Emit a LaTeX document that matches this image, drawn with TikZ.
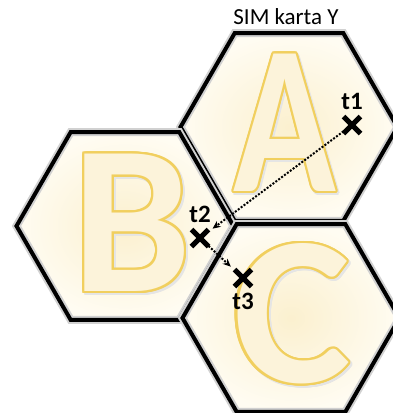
\documentclass[tikz,border=0pt]{standalone}
\usepackage{fontspec}
\setmainfont{Carlito}
\usepackage[copies]{contour}
\usetikzlibrary{shapes.geometric, shapes.misc, arrows.meta, positioning}

\definecolor{hexcream}{HTML}{FBF0CF}
\definecolor{hexlight}{HTML}{FFFCF2}
\definecolor{letteryellow}{HTML}{F1CF5E}
\definecolor{lettercream}{HTML}{FCF3DA}
\contourlength{2.4pt}
% outlined letter with a soft shadow, #1 = horizontal scale, #2 = letter
\newcommand{\hexletter}[2]{\scalebox{#1}[1]{\makebox[0pt][l]{\hspace{2pt}\raisebox{-2pt}{\contour{black!10}{\textcolor{black!10}{#2}}}}\contour{letteryellow}{\textcolor{lettercream}{#2}}}}

\begin{document}
\begin{tikzpicture}[x=1pt,y=-1pt]
\tikzstyle{hex}=[regular polygon, regular polygon sides=6, minimum size=217pt, inner sep=0pt, inner color=hexcream, outer color=hexlight, postaction={draw=black!18, line width=8pt}, postaction={draw=black, line width=4pt}]
\tikzstyle{letter}=[inner sep=0pt, font=\fontsize{212}{212}\bfseries\selectfont]
\tikzstyle{spot}=[cross out, draw=black, line width=5pt, minimum size=12pt, inner sep=0pt]
\tikzstyle{tag}=[font=\fontsize{25}{25}\bfseries\selectfont, label distance=3pt]
\tikzstyle{link}=[dash pattern=on 2pt off 1.6pt, line width=2pt, -{Stealth[length=8pt,width=7pt]}, shorten >=5pt]

\useasboundingbox (0,0) rectangle (393,413);
\clip (0,0) rectangle (393,413);
\fill[white] (0,0) rectangle (393,413);

% hexagon cells
\node[hex] (hexA) at (289,127) {};
\node[hex] (hexB) at (125,226) {};
\node[hex] (hexC) at (291,318) {};

\node[letter] (letA) at (285,125) {\hexletter{0.8}{A}};
\node[letter] (letB) at (132,225) {\hexletter{1.0}{B}};
\node[letter] (letC) at (292,316) {\hexletter{1.05}{C}};

\node[font=\fontsize{23}{23}\selectfont] (title) at (286,17) {SIM karta Y};

% positions of the card
\node[spot, label={[tag]above:t1}] (t1) at (352,125) {};
\node[spot, label={[tag]above:t2}] (t2) at (200,238) {};
\node[spot, label={[tag]below:t3}] (t3) at (243,278) {};

\draw[link] (t1) -- (t2);
\draw[link] (t2) -- (t3);

\end{tikzpicture}
\end{document}
